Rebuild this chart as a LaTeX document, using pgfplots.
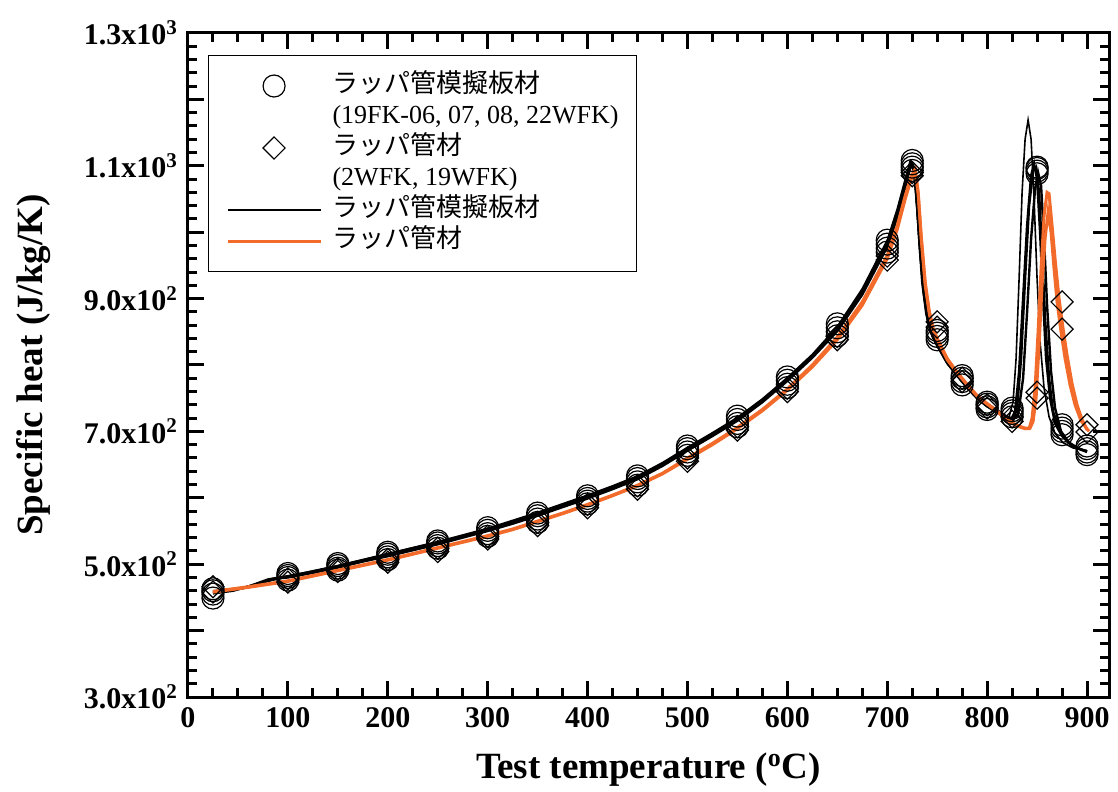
\documentclass[border=0pt]{standalone}
\usepackage{fontspec}
\setmainfont{Liberation Serif}
\newfontfamily\jp{Noto Sans CJK JP}
\usepackage{pgfplots}
\pgfplotsset{compat=1.18}
\definecolor{wrapper}{RGB}{242,107,42}
\pgfplotsset{
  markleg/.style={legend image code/.code={\draw[##1] plot coordinates {(23bp,0bp)};}},
  lineleg/.style={legend image code/.code={\draw[##1] (0bp,0bp) -- (46.5bp,0bp);}},
  circ/.style={forget plot, only marks, mark=o, mark size=5.5bp, mark options={line width=0.6bp, black}},
  diam/.style={forget plot, only marks, mark=square, mark size=3.9bp, mark options={rotate=45, line width=0.6bp, black}},
}

\begin{document}
\begin{tikzpicture}
\begin{axis}[
  scale only axis, width=460.5bp, height=332bp,
  xmin=0, xmax=922, ymin=300, ymax=1300,
  xtick={0,100,...,900}, minor x tick num=3,
  ytick={300,400,...,1300}, minor y tick num=4,
  yticklabels={3.0x10\textsuperscript{2},,5.0x10\textsuperscript{2},,7.0x10\textsuperscript{2},,9.0x10\textsuperscript{2},,1.1x10\textsuperscript{3},,1.3x10\textsuperscript{3}},
  axis line style={line width=1.5bp},
  tick style={line width=1.5bp, black},
  major tick length=8bp, minor tick length=4.5bp,
  tick label style={font=\fontsize{15bp}{18bp}\selectfont\bfseries},
  /pgf/number format/assume math mode=true,
  xticklabel style={yshift=-2bp},
  yticklabel style={xshift=-1.5bp},
  xlabel={Test temperature (\textsuperscript{o}C)},
  ylabel={Specific heat (J/kg/K)},
  every axis x label/.style={at={(axis description cs:0.5,-0.11)}, anchor=center,
    font=\fontsize{18.5bp}{22bp}\selectfont\bfseries},
  every axis y label/.style={at={(axis description cs:-0.168,0.5)}, rotate=90, anchor=center,
    font=\fontsize{18.5bp}{22bp}\selectfont\bfseries},
  legend style={at={(0.0217,0.967)}, anchor=north west, draw=black, line width=0.6bp,
    font=\fontsize{13bp}{15.5bp}\selectfont, inner xsep=9bp, inner ysep=7.5bp,
    row sep=0pt, column sep=5bp,
    nodes={inner sep=0bp, text height=11bp, text depth=4.5bp}},
  legend cell align=left,
]
% legend images
\addlegendimage{only marks, mark=o, mark size=5.5bp, mark options={line width=0.6bp}, markleg}
\addlegendentry{\jp ラッパ管模擬板材}
\addlegendimage{empty legend}
\addlegendentry{(19FK-06, 07, 08, 22WFK)}
\addlegendimage{only marks, mark=square, mark size=3.9bp, mark options={rotate=45, line width=0.6bp}, markleg}
\addlegendentry{\jp ラッパ管材}
\addlegendimage{empty legend}
\addlegendentry{(2WFK, 19WFK)}
\addlegendimage{black, line width=1bp, lineleg}
\addlegendentry{\jp ラッパ管模擬板材}
\addlegendimage{wrapper, line width=1.5bp, lineleg}
\addlegendentry{\jp ラッパ管材}

% continuous curves: simulated plate material (black)
\addplot[forget plot, black, line width=1.2bp] coordinates {
(25,458)(40,461)(60,466)(80,477)(100,482)(125,489)(150,497)(175,506)(200,515)(225,524)
(250,533)(275,542)(300,553)(325,564)(350,577)(375,589)(400,603)(425,616)(450,631)(475,651)
(500,674)(525,696)(550,719)(575,747)(600,779)(625,814)(650,855)(675,912)(700,985)(710,1030)
(718,1075)(724,1105)(727,1095)(730,1040)(733,975)(736,915)(740,872)(745,845)(750,832)(760,805)
(770,786)(780,768)(790,751)(800,740)(810,731)(820,720)(824,718)(828,730)(832,790)(836,900)
(840,1010)(844,1085)(847,1103)(850,1080)(853,1000)(856,900)(859,810)(863,750)(868,712)(875,693)
(885,678)(895,672)(900,670)};
\addplot[forget plot, black, line width=1.2bp] coordinates {
(25,456)(45,460)(65,468)(85,478)(100,480)(125,487)(150,495)(175,504)(200,512)(225,521)
(250,530)(275,540)(300,550)(325,561)(350,573)(375,586)(400,599)(425,613)(450,628)(475,648)
(500,671)(525,693)(550,716)(575,744)(600,776)(625,811)(650,851)(675,906)(700,978)(710,1022)
(718,1068)(723,1098)(726,1100)(729,1060)(732,990)(735,925)(739,878)(744,848)(750,830)(760,803)
(770,784)(780,766)(790,750)(800,738)(810,729)(820,719)(826,716)(830,735)(834,810)(838,930)
(842,1040)(846,1092)(849,1098)(852,1060)(855,970)(858,870)(862,780)(866,730)(872,702)(880,685)
(890,675)(900,669)};
\addplot[forget plot, black, line width=0.8bp] coordinates {
(25,460)(50,463)(70,470)(90,479)(100,482)(125,490)(150,498)(175,507)(200,516)(225,525)
(250,534)(275,544)(300,554)(325,566)(350,578)(375,591)(400,604)(425,618)(450,633)(475,653)
(500,676)(525,698)(550,721)(575,749)(600,781)(625,816)(650,858)(675,915)(700,988)(710,1035)
(718,1080)(723,1108)(726,1102)(729,1060)(732,985)(736,915)(740,870)(745,843)(750,828)(760,802)
(770,783)(780,765)(790,749)(800,737)(810,728)(818,721)(822,722)(826,745)(829,810)(832,930)
(835,1060)(838,1140)(841,1169)(844,1140)(847,1050)(850,930)(853,835)(857,765)(862,722)(868,697)
(876,683)(886,675)(900,671)};
\addplot[forget plot, black, line width=1.2bp] coordinates {
(25,457)(55,464)(75,473)(95,480)(100,481)(125,488)(150,496)(175,505)(200,514)(225,522)
(250,531)(275,541)(300,552)(325,563)(350,575)(375,588)(400,601)(425,615)(450,630)(475,650)
(500,673)(525,695)(550,718)(575,746)(600,778)(625,813)(650,854)(675,910)(700,982)(710,1027)
(718,1072)(724,1102)(727,1092)(730,1035)(733,968)(737,905)(741,866)(746,842)(750,833)(760,806)
(770,787)(780,769)(790,752)(800,741)(810,732)(820,722)(826,719)(831,725)(836,780)(840,880)
(844,990)(848,1065)(851,1090)(854,1070)(857,990)(860,890)(864,790)(868,735)(874,700)(882,683)
(892,674)(900,670)};

% continuous curves: wrapper tube material (orange)
\addplot[forget plot, wrapper, line width=1.5bp] coordinates {
(25,459)(60,466)(100,475)(125,483)(150,491)(175,499)(200,507)(225,516)(250,525)(275,534)
(300,543)(325,553)(350,565)(375,577)(400,590)(425,604)(450,619)(475,637)(500,660)(525,682)
(550,706)(575,733)(600,764)(625,800)(650,842)(675,895)(700,965)(710,1010)(718,1055)(724,1085)
(728,1095)(731,1060)(734,990)(738,920)(742,878)(746,852)(750,838)(760,808)(770,788)(780,770)
(790,753)(800,741)(810,730)(820,716)(830,708)(838,704)(842,704)(845,720)(848,765)(851,850)
(854,945)(857,1025)(860,1060)(862,1058)(865,1010)(868,960)(872,900)(876,855)(880,815)(885,772)
(890,740)(895,718)(900,702)};
\addplot[forget plot, wrapper, line width=1.5bp] coordinates {
(25,458)(60,465)(100,474)(125,482)(150,490)(175,498)(200,506)(225,515)(250,524)(275,533)
(300,542)(325,552)(350,564)(375,576)(400,589)(425,603)(450,618)(475,636)(500,658)(525,680)
(550,704)(575,731)(600,762)(625,797)(650,838)(675,890)(700,960)(710,1004)(718,1050)(724,1080)
(728,1090)(731,1058)(734,995)(738,925)(742,882)(746,855)(750,840)(760,810)(770,789)(780,771)
(790,754)(800,742)(810,731)(820,718)(830,709)(838,705)(843,705)(846,715)(849,750)(852,830)
(855,920)(858,990)(861,1030)(864,1000)(867,945)(870,895)(874,850)(878,810)(883,770)(888,740)
(894,716)(902,700)};

% measured points: simulated plate material (circles)
\addplot[circ] coordinates {
(25,449)(100,476)(150,491)(200,507)(250,524)(300,542)(350,563)(400,591)(450,619)(500,664)
(550,707)(600,766)(650,844)(700,970)(725,1093)(750,838)(775,770)(800,733)(825,722)(850,1088)
(875,695)(900,665)};
\addplot[circ] coordinates {
(25,455)(100,480)(150,494)(200,511)(250,528)(300,546)(350,568)(400,595)(450,624)(500,669)
(550,712)(600,771)(650,850)(700,976)(725,1098)(750,843)(775,775)(800,737)(825,727)(850,1092)
(875,700)(900,669)};
\addplot[circ] coordinates {
(25,460)(100,483)(150,498)(200,515)(250,532)(300,551)(350,573)(400,599)(450,629)(500,674)
(550,718)(600,777)(650,856)(700,982)(725,1103)(750,848)(775,780)(800,741)(825,731)(850,1096)
(875,705)(900,674)};
\addplot[circ] coordinates {
(25,463)(100,486)(150,501)(200,518)(250,535)(300,555)(350,577)(400,603)(450,633)(500,678)
(550,723)(600,782)(650,862)(700,988)(725,1108)(750,852)(775,784)(800,744)(825,735)(850,1098)
(875,710)(900,678)};

% measured points: wrapper tube material (diamonds)
\addplot[diam] coordinates {
(25,458)(100,473)(150,489)(200,503)(250,519)(300,538)(350,558)(400,585)(450,613)(500,655)
(550,702)(600,760)(650,838)(700,958)(725,1085)(750,857)(775,775)(800,735)(825,715)(850,750)
(875,854)(900,699)};
\addplot[diam] coordinates {
(25,466)(100,478)(150,493)(200,507)(250,524)(300,542)(350,563)(400,590)(450,618)(500,660)
(550,707)(600,765)(650,843)(700,964)(725,1090)(750,865)(775,780)(800,740)(825,722)(850,759)
(875,895)(900,710)};
\end{axis}
\pgfresetboundingbox
\path[use as bounding box] ([shift={(-94bp,-47.5bp)}]current axis.south west) rectangle ([shift={(4.5bp,16.5bp)}]current axis.north east);
\end{tikzpicture}
\end{document}
